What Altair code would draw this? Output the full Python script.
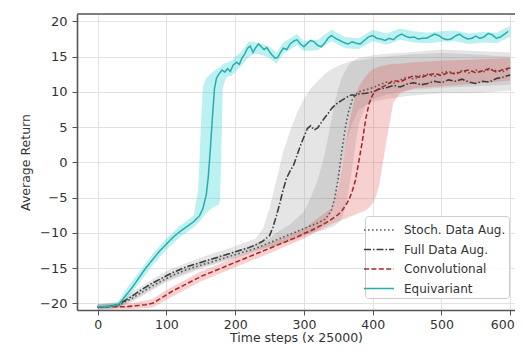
import altair as alt
import pandas as pd

# ---------------- data ----------------
series_names = ["Stoch. Data Aug.", "Full Data Aug.", "Convolutional", "Equivariant"]

# Equivariant
eq_x = [0,10,20,30,40,50,60,70,80,90,100,110,120,130,140,148,153,158,161,164,167,170,173,177,181,185,189,193,197,202,206,210,214,218,222,226,230,234,238,242,246,250,254,258,262,266,270,275,280,285,290,295,300,305,310,315,320,325,330,335,340,346,352,358,364,370,376,382,388,394,400,406,412,418,424,430,436,442,448,454,460,466,472,478,484,490,496,502,508,514,520,526,532,538,544,550,556,562,568,574,580,586,592,597]
eq_y = [-20.5,-20.5,-20.4,-20.2,-19.0,-17.8,-16.4,-15.0,-13.8,-12.6,-11.6,-10.6,-9.8,-9.1,-8.4,-7.6,-6.6,-4.6,-2.0,2.0,6.5,10.5,12.0,12.6,13.1,12.8,13.3,12.9,13.8,14.2,13.9,14.8,15.4,16.2,16.5,15.6,16.3,16.8,16.4,16.0,16.3,15.7,15.2,14.8,14.9,15.6,16.2,16.0,16.8,17.2,17.4,16.8,16.4,16.9,17.3,17.1,16.6,16.4,16.9,17.6,18.0,17.6,17.3,17.0,16.8,17.1,16.9,16.8,17.3,17.8,18.0,17.6,17.5,17.3,17.6,17.4,17.9,18.2,17.9,17.7,17.8,17.5,17.6,17.6,17.9,18.2,18.0,17.6,17.4,17.5,17.9,18.2,17.8,17.5,17.6,17.9,17.6,17.8,18.3,18.1,17.6,17.8,18.2,18.6]
eq_band_x = [0,20,30,40,60,80,100,120,130,140,146,148,150,153,158,165,172,176,178,180,182,186,190,195,200,210,220,230,240,250,260,270,280,290,300,320,340,360,380,400,420,440,460,480,500,520,540,560,580,600]
eq_lo = [-20.9,-20.8,-20.6,-19.8,-17.2,-14.6,-12.4,-10.6,-9.9,-9.2,-8.6,-8.4,-8.2,-7.8,-7.2,-6.6,-6.2,-6.0,-5.5,2.0,10.5,11.8,12.2,12.3,12.8,13.8,15.0,15.4,15.2,14.8,14.0,15.4,16.0,16.6,15.8,15.9,17.2,16.2,16.1,17.2,16.7,17.4,17.0,16.9,17.1,17.2,16.8,17.0,16.9,17.8]
eq_hi = [-20.1,-20.0,-19.8,-18.2,-15.6,-13.0,-10.8,-9.0,-8.3,-7.5,-4.0,0.0,5.0,10.7,12.0,12.6,13.2,13.4,13.5,13.7,13.9,14.1,14.2,14.4,15.0,15.8,17.2,17.0,16.8,16.4,15.6,17.0,17.6,18.2,17.2,17.4,18.8,17.8,17.6,18.8,18.3,19.0,18.6,18.4,18.6,18.7,18.3,18.5,18.4,19.4]

# Full Data Aug.
fd_x = [0,10,20,30,40,50,60,70,80,90,100,110,120,130,140,150,160,170,180,190,200,210,220,230,240,250,255,260,265,270,275,280,285,290,295,300,305,310,315,320,325,330,335,340,345,350,355,360,365,370,375,380,390,400,410,420,430,440,450,460,470,480,490,500,510,520,530,540,550,560,570,580,590,600]
fd_y = [-20.5,-20.5,-20.4,-20.2,-19.6,-19.0,-18.3,-17.7,-17.1,-16.6,-16.1,-15.6,-15.2,-14.8,-14.5,-14.2,-13.9,-13.6,-13.3,-13.0,-12.7,-12.4,-12.1,-11.7,-11.2,-10.4,-9.2,-7.6,-5.8,-3.8,-2.2,-1.2,-0.4,1.0,2.4,3.6,4.8,5.2,4.6,4.9,5.6,6.3,6.9,7.6,8.1,8.5,8.8,9.1,9.4,9.6,9.5,9.7,9.8,10.0,10.4,10.6,10.9,10.7,11.1,11.3,11.0,11.2,11.5,11.3,11.7,11.5,11.8,11.4,11.2,11.5,11.4,11.9,12.1,12.4]
fd_band_x = [0,30,50,100,150,200,230,240,250,260,270,280,290,300,310,320,330,340,350,360,370,380,400,420,450,500,550,600]
fd_lo = [-20.8,-20.6,-19.6,-16.8,-14.9,-13.5,-12.4,-12.2,-12.0,-11.8,-11.5,-11.2,-10.9,-10.5,-10.1,-9.6,-8.8,-7.0,-3.0,2.0,5.5,7.5,8.6,9.0,9.4,9.8,9.8,10.2]
fd_hi = [-20.2,-19.8,-18.4,-15.4,-13.5,-11.9,-10.8,-9.5,-6.5,-2.5,1.5,4.5,7.0,9.0,10.5,11.5,12.5,13.2,13.7,14.1,14.4,14.5,14.8,15.0,15.3,15.5,15.3,15.0]

# Stoch. Data Aug.
sd_x = [0,10,20,30,40,50,60,70,80,90,100,110,120,130,140,150,160,170,180,190,200,210,220,230,240,250,260,270,280,290,300,310,320,330,335,340,345,350,355,360,365,370,375,380,390,400,410,420,430,440,450,460,470,480,490,500,510,520,530,540,550,560,570,580,590,600]
sd_y = [-20.5,-20.5,-20.4,-20.3,-19.8,-19.3,-18.7,-18.1,-17.5,-17.0,-16.5,-16.0,-15.6,-15.2,-14.9,-14.6,-14.3,-14.0,-13.7,-13.4,-13.1,-12.8,-12.5,-12.2,-11.8,-11.4,-11.0,-10.6,-10.2,-9.8,-9.4,-9.0,-8.6,-8.1,-7.6,-6.8,-5.0,-2.2,1.5,4.8,7.2,8.8,9.6,10.0,10.3,10.6,11.0,11.4,11.2,11.7,12.1,11.8,12.3,12.5,12.2,12.7,12.9,12.6,13.0,12.7,13.1,12.8,13.2,13.0,12.9,13.4]
sd_band_x = [0,30,50,100,150,200,250,260,280,300,310,320,330,340,345,350,355,360,365,370,375,380,390,400,420,450,500,550,600]
sd_lo = [-20.8,-20.6,-19.8,-17.0,-15.1,-13.6,-12.0,-11.8,-11.0,-10.3,-10.0,-9.8,-9.6,-9.2,-9.0,-8.6,-8.0,-6.5,-4.0,-1.0,2.5,5.5,8.0,9.0,9.6,10.2,10.6,10.8,11.0]
sd_hi = [-20.2,-20.0,-18.8,-16.0,-14.1,-12.6,-10.8,-10.0,-8.8,-7.0,-5.0,-2.5,1.0,6.0,8.5,10.5,12.0,13.0,13.8,14.3,14.6,14.8,15.0,15.2,15.4,15.6,16.0,15.8,15.6]

# Convolutional
cv_x = [0,10,20,30,40,50,60,70,80,90,100,110,120,130,140,150,160,170,180,190,200,210,220,230,240,250,260,270,280,290,300,310,320,330,340,350,355,360,365,370,375,380,385,390,395,400,405,410,420,430,440,450,460,470,480,490,500,510,520,530,540,550,560,570,580,590,600]
cv_y = [-20.5,-20.5,-20.5,-20.5,-20.5,-20.4,-20.3,-20.2,-20.0,-19.4,-18.8,-18.2,-17.7,-17.2,-16.7,-16.2,-15.8,-15.4,-15.0,-14.6,-14.2,-13.8,-13.4,-13.0,-12.6,-12.2,-11.8,-11.4,-11.0,-10.6,-10.1,-9.7,-9.2,-8.7,-8.1,-7.4,-6.9,-6.2,-5.4,-4.2,-2.5,0.2,3.0,6.2,8.4,9.6,10.2,10.5,11.0,11.6,11.4,11.9,12.3,12.0,12.4,12.6,12.3,12.8,12.5,12.9,13.1,12.7,13.0,13.3,12.8,13.2,13.4]
cv_band_x = [0,50,80,100,150,200,250,300,340,350,355,360,365,370,375,380,385,390,395,400,405,410,420,430,440,460,500,550,600]
cv_lo = [-20.9,-20.8,-20.6,-19.5,-16.9,-14.9,-12.9,-10.8,-8.8,-8.4,-8.2,-8.0,-7.8,-7.6,-7.4,-7.2,-7.0,-6.8,-6.4,-5.8,-4.8,-3.0,3.0,8.5,9.8,10.5,10.8,11.2,11.6]
cv_hi = [-20.1,-20.0,-19.4,-18.1,-15.5,-13.5,-11.5,-9.4,-6.5,-3.5,-1.0,2.0,5.0,7.5,9.5,10.8,11.5,12.2,12.8,13.2,13.4,13.6,13.8,14.0,14.0,14.2,14.4,14.6,14.8]

x_ticks = [0, 100, 200, 300, 400, 500, 600]
y_ticks = [-20, -15, -10, -5, 0, 5, 10, 15, 20]

line_colors = ["#5a5a5a", "#3c3c3c", "#a82828", "#2aacac"]
band_colors = ["#8a8a8a", "#8a8a8a", "#e04848", "#22d2d2"]
band_opacity = [0.22, 0.22, 0.26, 0.3]
dashes = [[1.6, 2.4], [7, 2, 1.5, 2], [5, 2.4], [1, 0]]
widths = [1.6, 1.5, 1.6, 2.2]

# ---------------- tables ----------------
lines = pd.concat([
    pd.DataFrame({"series": series_names[0], "x": sd_x, "y": sd_y}),
    pd.DataFrame({"series": series_names[1], "x": fd_x, "y": fd_y}),
    pd.DataFrame({"series": series_names[2], "x": cv_x, "y": cv_y}),
    pd.DataFrame({"series": series_names[3], "x": eq_x, "y": eq_y}),
], ignore_index=True)
lines["ord"] = lines["series"].map({s: i for i, s in enumerate(series_names)})

bands = [
    pd.DataFrame({"x": sd_band_x, "lo": sd_lo, "hi": sd_hi}),
    pd.DataFrame({"x": fd_band_x, "lo": fd_lo, "hi": fd_hi}),
    pd.DataFrame({"x": cv_band_x, "lo": cv_lo, "hi": cv_hi}),
    pd.DataFrame({"x": eq_band_x, "lo": eq_lo, "hi": eq_hi}),
]

W, H = 438, 296
FONT = "DejaVu Sans"

xscale = alt.Scale(domain=[-30, 607], nice=False, zero=False)
yscale = alt.Scale(domain=[-20.95, 21.05], nice=False, zero=False)

xaxis = alt.Axis(values=x_ticks, title="Time steps (x 25000)", titlePadding=1, format="d",
                 labelPadding=3, labelFontSize=12.5, labelFlush=8, labelFlushOffset=4)
yaxis = alt.Axis(values=y_ticks, title="Average Return", titlePadding=7, format="d")

layers = []
for i, b in enumerate(bands):
    layers.append(
        alt.Chart(b).mark_area(color=band_colors[i], opacity=band_opacity[i], interpolate="linear").encode(
            x=alt.X("x:Q", scale=xscale, axis=xaxis),
            y=alt.Y("lo:Q", scale=yscale, axis=yaxis),
            y2="hi:Q",
        )
    )

line_layer = alt.Chart(lines).mark_line().encode(
    x=alt.X("x:Q", scale=xscale, axis=xaxis),
    y=alt.Y("y:Q", scale=yscale, axis=yaxis),
    color=alt.Color("series:N", scale=alt.Scale(domain=series_names, range=line_colors),
                    sort=series_names, title=None),
    strokeDash=alt.StrokeDash("series:N", scale=alt.Scale(domain=series_names, range=dashes),
                              sort=series_names, title=None),
    strokeWidth=alt.StrokeWidth("series:N", scale=alt.Scale(domain=series_names, range=widths),
                                sort=series_names, title=None),
    order="ord:Q",
)
layers.append(line_layer)

top_frame = alt.Chart(pd.DataFrame({"a": [0]})).mark_rule(color="#555555", strokeWidth=1.6).encode(
    y=alt.value(0), x=alt.value(0), x2=alt.value(W)
)
layers.append(top_frame)

chart = alt.layer(*layers).properties(
    width=W, height=H,
    autosize=alt.AutoSizeParams(type="none"),
    padding={"left": 69, "top": 6, "right": 0, "bottom": 34},
).configure_view(stroke=None).configure_axis(
    labelFont=FONT, labelFontSize=13, labelColor="#333333",
    titleFont=FONT, titleFontSize=12.5, titleColor="#333333", titleFontWeight="normal",
    domainColor="#555555", domainWidth=1.6,
    tickColor="#555555", tickSize=5, tickWidth=1,
    labelPadding=5,
    gridColor="#e2e2e2", gridWidth=1,
).configure_legend(
    orient="none", legendX=288, legendY=202,
    padding=3, strokeColor="#cccccc", fillColor="rgba(255,255,255,0.85)", cornerRadius=3,
    symbolType="M-1.5,0H1.5", symbolSize=400, labelFont=FONT, labelFontSize=12,
    labelColor="#333333", labelOffset=14, rowPadding=2.5,
)

chart.save("out.html", embed_options={"renderer": "svg", "actions": False})
